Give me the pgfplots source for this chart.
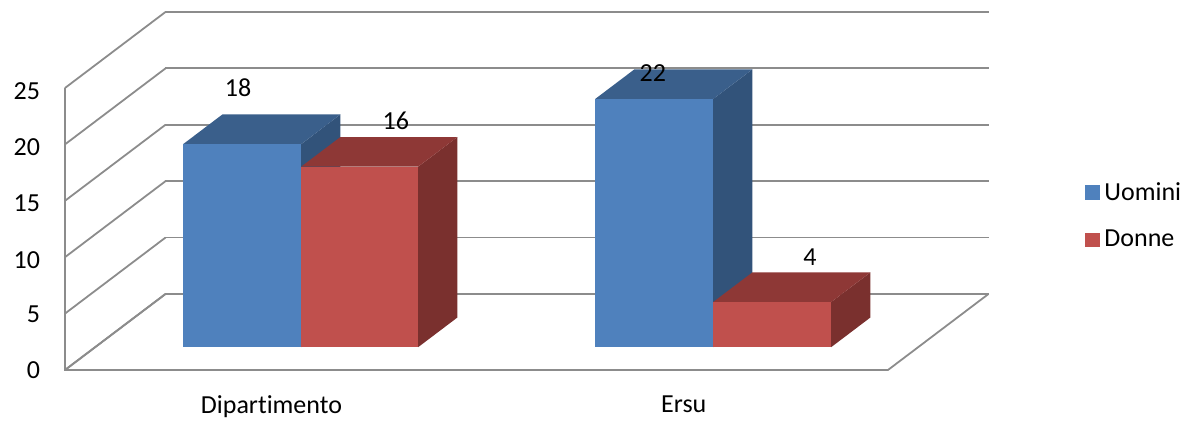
\documentclass[border=0pt]{standalone}
\usepackage{fontspec}
\setmainfont[Ligatures=NoCommon]{Carlito}
\usepackage{pgfplots}
\pgfplotsset{compat=1.18}
\definecolor{blueF}{RGB}{79,129,189}
\definecolor{blueT}{RGB}{58,95,139}
\definecolor{blueS}{RGB}{50,83,122}
\definecolor{redF}{RGB}{192,80,77}
\definecolor{redT}{RGB}{142,56,54}
\definecolor{redS}{RGB}{122,48,46}
\definecolor{gridc}{RGB}{140,140,140}
\newcommand{\lblfont}{\fontsize{13}{15}\selectfont}

% one 3D column: x0, x1, value, front colour, top colour, side colour
\newcommand{\column}[6]{
  \addplot3[fill=#6, draw=none, forget plot] coordinates {(#2,0.3,0) (#2,0.69,0) (#2,0.69,#3) (#2,0.3,#3)} --cycle;
  \addplot3[fill=#5, draw=none, forget plot] coordinates {(#1,0.3,#3) (#2,0.3,#3) (#2,0.69,#3) (#1,0.69,#3)} --cycle;
  \addplot3[fill=#4, draw=none, forget plot] coordinates {(#1,0.3,0) (#2,0.3,0) (#2,0.3,#3) (#1,0.3,#3)} --cycle;
}

\begin{document}
\begin{tikzpicture}
\begin{axis}[
    at={(0pt,0pt)}, anchor=origin,
    x={(0.5pt,0pt)}, y={(50.25pt,38pt)}, z={(0pt,5.64pt)},
    xmin=0, xmax=823, ymin=0, ymax=1, zmin=0, zmax=25,
    clip=false,
    axis line style={draw=none},
    xtick={206,617}, xticklabels={Dipartimento,Ersu},
    ytick=\empty,
    ztick={0,5,...,25},
    zmajorgrids=true,
    major grid style={gridc, line width=0.9pt},
    major tick length=0pt,
    tick label style={font=\lblfont},
    xticklabel style={xshift=4.75pt, yshift=-9.5pt},
    zticklabel style={xshift=-9pt, yshift=2pt},
    /pgf/number format/assume math mode=true,
    legend style={at={(1.098,0.43)}, anchor=west, draw=none, fill=none, row sep=9.5pt,
      font=\lblfont},
    legend cell align=left,
    legend image code/.code={\fill[#1] (0pt,-3.7pt) rectangle (7.5pt,3.7pt);},
]
  % floor and left edge
  \addplot3[gridc, line width=0.9pt, forget plot] coordinates {(0,0,25) (0,0,0) (823,0,0) (823,1,0)};
  \addplot3[gridc, line width=0.9pt, forget plot] coordinates {(0,0,0) (0,1,0) (823,1,0)};

  \column{88}{206}{18}{blueF}{blueT}{blueS}
  \column{206}{323}{16}{redF}{redT}{redS}
  \column{500}{618}{22}{blueF}{blueT}{blueS}
  \column{618}{736}{4}{redF}{redT}{redS}

  % value labels
  \addplot3[draw=none, mark=none, forget plot, point meta=z,
    nodes near coords, nodes near coords align={anchor=center},
    every node near coord/.append style={font=\lblfont, text=black}]
    coordinates {(68.5,1.04,18) (240.4,0.90,16) (523,0.645,22) (655,0.895,4)};

  \addlegendimage{fill=blueF, draw=none}
  \addlegendentry{Uomini}
  \addlegendimage{fill=redF, draw=none}
  \addlegendentry{Donne}

  \path[use as bounding box] (axis cs:-65,0,-4.52) rectangle (axis cs:1130,0,32.8);
\end{axis}
\end{tikzpicture}
\end{document}
